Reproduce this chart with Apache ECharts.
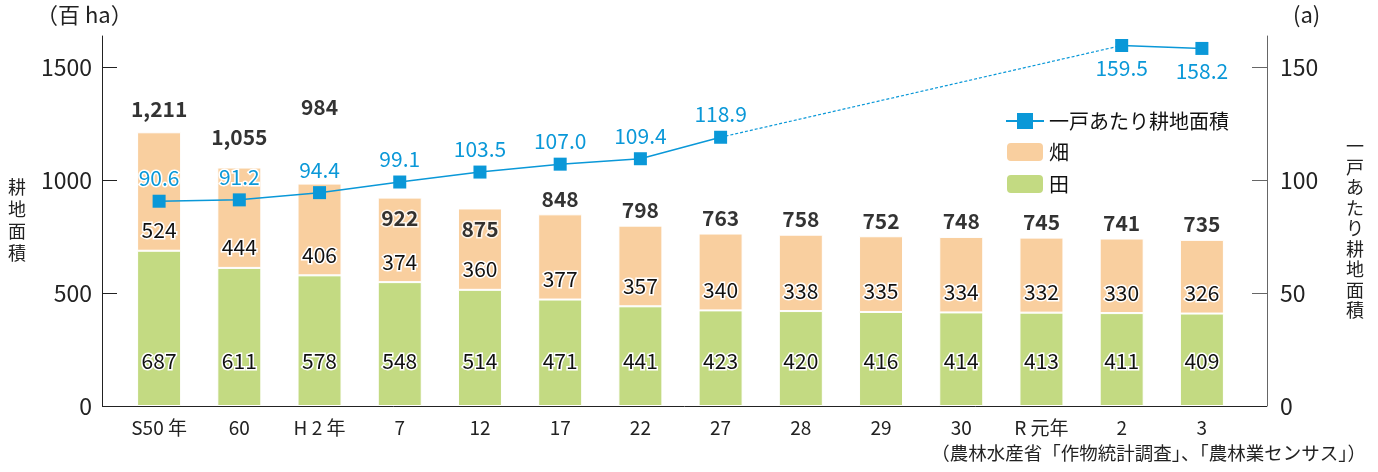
<!DOCTYPE html>
<html>
<head>
<meta charset="utf-8">
<script src="https://cdn.jsdelivr.net/npm/echarts@6/dist/echarts.min.js"></script>
<style>
  html, body { margin: 0; padding: 0; background: #fff; }
  #main { width: 1378px; height: 472px; }
</style>
</head>
<body>
<div id="main"></div>
<script>
// 年次
var years = ['S50 年', '60', 'H 2 年', '7', '12', '17', '22', '27', '28', '29', '30', 'R 元年', '2', '3'];
// 田・畑（百ha）
var paddy = [687, 611, 578, 548, 514, 471, 441, 423, 420, 416, 414, 413, 411, 409];
var upland = [524, 444, 406, 374, 360, 377, 357, 340, 338, 335, 334, 332, 330, 326];
var totals = [1211, 1055, 984, 922, 875, 848, 798, 763, 758, 752, 748, 745, 741, 735];
// 一戸あたり耕地面積（a）
var perFarm = [90.6, 91.2, 94.4, 99.1, 103.5, 107.0, 109.4, 118.9, null, null, null, null, 159.5, 158.2];
var leftTicks = [0, 500, 1000, 1500];
var rightTicks = [0, 50, 100, 150];

var FONT = "'Noto Sans CJK JP', 'Noto Sans', sans-serif";
var BLUE = '#0a98d8';

// 合計ラベルの個別の位置ずらし（線のラベルとの重なりを避ける）
var totalOffsets = { 0: [0, -8], 1: [0, -15], 2: [0, -61], 3: [0, 36], 4: [0, 36] };

var chartDom = document.getElementById('main');
var myChart = echarts.init(chartDom);
var option;

// 点線部分（データの欠けている区間の両端だけ）
var gapLine = perFarm.map(function (v, i) {
  if (v === null) return null;
  var prevGap = i > 0 && perFarm[i - 1] === null;
  var nextGap = i < perFarm.length - 1 && perFarm[i + 1] === null;
  return (prevGap || nextGap) ? v : null;
});

var lineData = perFarm.map(function (v) {
  if (v === null) return null;
  if (v > 150) {
    return { value: v, label: { position: 'bottom' } };
  }
  return v;
});

var totalData = totals.map(function (v, i) {
  var item = { value: v };
  if (totalOffsets[i]) item.label = { offset: totalOffsets[i] };
  return item;
});

var outline = { textBorderColor: '#fff', textBorderWidth: 3 };

option = {
  textStyle: { fontFamily: FONT },
  animation: false,
  grid: { left: 119, right: 136, top: 36, bottom: 66 },
  legend: {
    orient: 'vertical',
    left: 1000,
    top: 106,
    itemWidth: 38,
    itemHeight: 20,
    itemGap: 10,
    textStyle: { fontSize: 20, color: '#111', fontFamily: FONT },
    data: ['一戸あたり耕地面積', '畑', '田']
  },
  xAxis: {
    type: 'category',
    data: years,
    axisLine: { show: false },
    axisTick: { show: false },
    axisLabel: { color: '#222', fontSize: 19, margin: 12, fontFamily: FONT }
  },
  yAxis: [
    {
      type: 'value',
      min: 0,
      max: 1637,
      offset: 17,
      splitLine: { show: false },
      axisLine: { show: true, lineStyle: { color: '#222' } },
      axisTick: { show: true, inside: true, length: 15, customValues: leftTicks, lineStyle: { color: '#222' } },
      axisLabel: {
        customValues: leftTicks, color: '#222', fontSize: 23, margin: 10, fontFamily: FONT,
        formatter: function (v) { return String(v); }
      }
    },
    {
      type: 'value',
      min: 0,
      max: 163.7,
      offset: 25,
      splitLine: { show: false },
      axisLine: { show: true, lineStyle: { color: '#666' } },
      axisTick: { show: true, inside: true, length: 15, customValues: rightTicks, lineStyle: { color: '#666' } },
      axisLabel: { customValues: rightTicks, color: '#222', fontSize: 23, margin: 13, fontFamily: FONT }
    }
  ],
  graphic: [
    // x軸の線（左右の縦軸の間）
    { type: 'line', shape: { x1: 102, y1: 406.5, x2: 1267, y2: 406.5 }, style: { stroke: '#222', lineWidth: 1 }, z: 1 },
    { type: 'text', left: 36, top: 4, style: { text: '（百 ha）', fontSize: 22, fill: '#222', fontFamily: FONT } },
    { type: 'text', left: 8, top: 176, style: { text: '耕\n地\n面\n積', fontSize: 18, lineHeight: 22, fill: '#222', fontFamily: FONT } },
    { type: 'text', left: 1293, top: 4, style: { text: '(a)', fontSize: 22, fill: '#222', fontFamily: FONT } },
    { type: 'text', left: 1346, top: 136, style: { text: '一\n戸\nあ\nた\nり\n耕\n地\n面\n積', fontSize: 18, lineHeight: 20.5, fill: '#222', fontFamily: FONT } },
    { type: 'text', right: 12, top: 444, style: { text: '（農林水産省「作物統計調査」、「農林業センサス」）', fontSize: 18.5, fill: '#222', fontFamily: FONT } }
  ],
  series: [
    {
      name: '田',
      type: 'bar',
      stack: 'area',
      barWidth: 44,
      data: paddy,
      itemStyle: { color: '#c3da82', borderColor: '#fff', borderWidth: 1 },
      label: Object.assign({
        show: true, position: 'insideBottom', distance: 34,
        color: '#111', fontSize: 21, fontFamily: FONT
      }, outline)
    },
    {
      name: '畑',
      type: 'bar',
      stack: 'area',
      barWidth: 44,
      data: upland,
      itemStyle: { color: '#f9cf9f', borderColor: '#fff', borderWidth: 1 },
      label: Object.assign({
        show: true, position: 'insideBottom', distance: 10,
        color: '#111', fontSize: 21, fontFamily: FONT
      }, outline)
    },
    {
      name: '合計',
      type: 'scatter',
      symbolSize: 0,
      data: totalData,
      z: 4,
      label: Object.assign({
        show: true, position: 'top', distance: 5,
        color: '#000', fontSize: 21, fontWeight: 'bold', fontFamily: FONT,
        formatter: function (p) { return p.value.toLocaleString('en-US'); }
      }, outline)
    },
    {
      name: '一戸あたり耕地面積',
      type: 'line',
      yAxisIndex: 1,
      data: lineData,
      connectNulls: false,
      symbol: 'rect',
      symbolSize: 13,
      z: 5,
      lineStyle: { color: BLUE, width: 1.5 },
      itemStyle: { color: BLUE },
      label: Object.assign({
        show: true, position: 'top', distance: 6,
        color: BLUE, fontSize: 21, fontFamily: FONT,
        formatter: function (p) { return p.value.toFixed(1); }
      }, outline)
    },
    {
      name: '点線',
      type: 'line',
      yAxisIndex: 1,
      data: gapLine,
      connectNulls: true,
      showSymbol: false,
      symbol: 'none',
      z: 4,
      lineStyle: { color: BLUE, width: 1.2, type: [3, 2] },
      label: { show: false }
    }
  ]
};
myChart.setOption(option);
</script>
</body>
</html>
